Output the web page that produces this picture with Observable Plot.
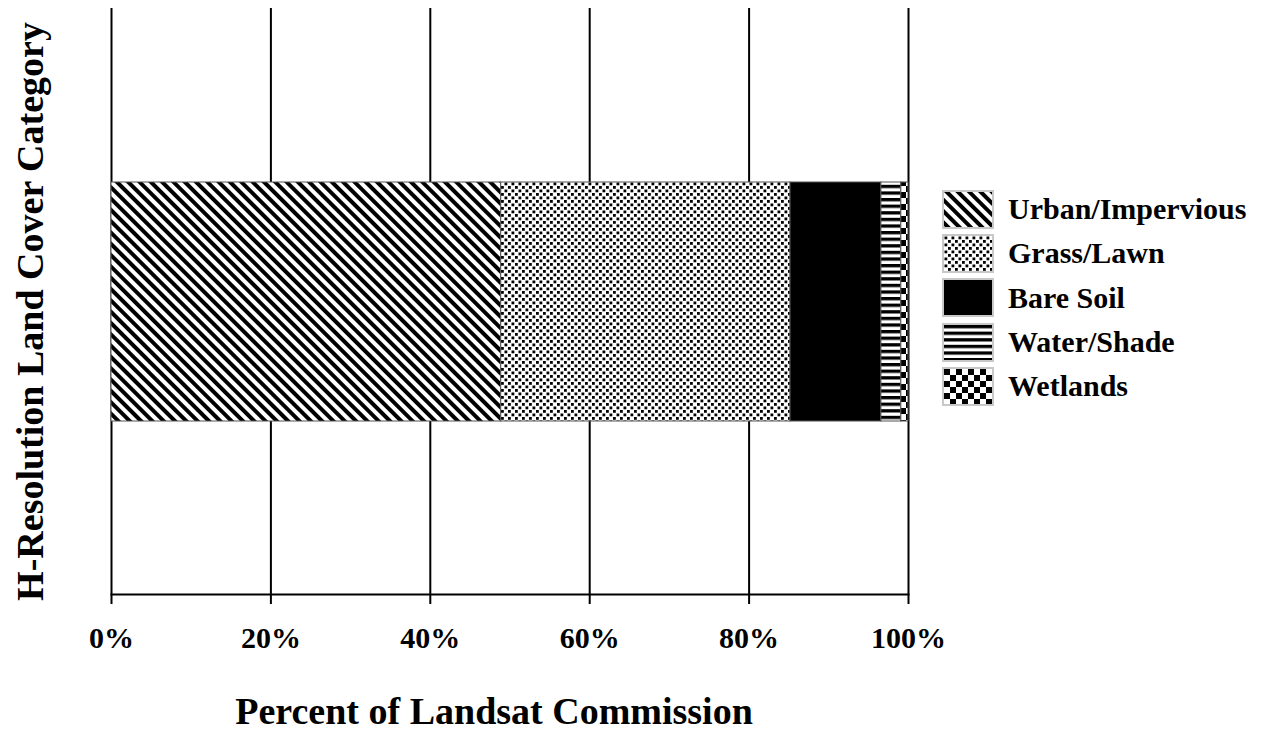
<!DOCTYPE html>
<html><head><meta charset="utf-8">
<script src="https://cdn.jsdelivr.net/npm/d3@7"></script>
<script src="https://cdn.jsdelivr.net/npm/@observablehq/plot@0.6"></script>
<style>
body{margin:0;background:#fff;}
#wrap{position:relative;width:1262px;height:732px;font-family:"Liberation Serif","Times New Roman",serif;font-weight:bold;}
#legend{position:absolute;left:942px;top:187px;}
.item{display:flex;align-items:center;height:44.3px;}
.sw{width:48px;height:35px;border:2px solid #c8c8c8;margin-right:14px;box-sizing:content-box;}
.lab{font-size:30px;color:#000;line-height:1;}
</style></head><body>
<svg width="0" height="0" style="position:absolute">
<defs>
<pattern id="p-urban" patternUnits="userSpaceOnUse" width="8" height="8" patternTransform="rotate(-45)">
<rect width="8" height="8" fill="#fff"/><rect width="4" height="8" fill="#000"/></pattern>
<pattern id="p-grass" patternUnits="userSpaceOnUse" width="7" height="7">
<rect width="7" height="7" fill="#fff"/><rect x="0.5" y="0.5" width="2.8" height="2.8" fill="#000"/><rect x="4" y="4" width="2.8" height="2.8" fill="#000"/></pattern>
<pattern id="p-bare" patternUnits="userSpaceOnUse" width="4" height="4">
<rect width="4" height="4" fill="#000"/></pattern>
<pattern id="p-water" patternUnits="userSpaceOnUse" width="6.6" height="6.6">
<rect width="6.6" height="6.6" fill="#fff"/><rect width="6.6" height="3.3" fill="#000"/></pattern>
<pattern id="p-wet" patternUnits="userSpaceOnUse" width="12" height="12">
<rect width="12" height="12" fill="#fff"/><rect width="6" height="6" fill="#000"/><rect x="6" y="6" width="6" height="6" fill="#000"/></pattern>
</defs></svg>
<div id="wrap"><div id="legend"></div></div>
<script>
const groups = ["Landsat Commission"];
const categories = ["Urban/Impervious", "Grass/Lawn", "Bare Soil", "Water/Shade", "Wetlands"];
const values = [48.9, 36.3, 11.4, 2.5, 0.9];
const patternIds = ["p-urban", "p-grass", "p-bare", "p-water", "p-wet"];
const xTicks = [0, 20, 40, 60, 80, 100];
const xTitle = "Percent of Landsat Commission";
const yTitle = "H-Resolution Land Cover Category";

const data = categories.map((c, i) => ({group: groups[0], category: c, value: values[i]}));
const fills = patternIds.map(id => `url(#${id})`);
const font = '"Liberation Serif","Times New Roman",serif';

const plot = Plot.plot({
  width: 1262, height: 732,
  marginLeft: 111, marginRight: 354, marginTop: 8, marginBottom: 138,
  style: {fontFamily: font, fontWeight: "bold", fontSize: "30px", color: "#000", background: "#fff", overflow: "visible"},
  x: {domain: [0, 100]},
  y: {domain: groups, padding: 0.42, axis: null},
  color: {domain: categories, range: fills},
  marks: [
    Plot.gridX(xTicks, {stroke: "#000", strokeOpacity: 1, strokeWidth: 2}),
    Plot.barX(data, {x: "value", y: "group", fill: "category", order: categories, stroke: "#555", strokeWidth: 1}),
    Plot.frame({anchor: "bottom", stroke: "#000", strokeWidth: 2}),
    Plot.axisX(xTicks, {tickSize: 10, strokeWidth: 2, tickPadding: 22, tickFormat: d => d + "%", fontSize: 30, fontWeight: "bold", label: null}),
    Plot.text([xTitle], {text: d => d, frameAnchor: "bottom", dy: 117, dx: -16, fontSize: 38, fontWeight: "bold", lineAnchor: "middle", textAnchor: "middle"}),
    Plot.text([yTitle], {text: d => d, frameAnchor: "left", rotate: -90, dx: -81, dy: 10, fontSize: 38, fontWeight: "bold", lineAnchor: "middle", textAnchor: "middle"})
  ]
});
const wrap = document.getElementById("wrap");
wrap.insertBefore(plot, wrap.firstChild);

const legend = document.getElementById("legend");
categories.forEach((c, i) => {
  const item = document.createElement("div");
  item.className = "item";
  item.innerHTML = `<svg class="sw" width="48" height="35"><rect width="48" height="35" fill="${fills[i]}"/></svg><span class="lab">${c}</span>`;
  legend.appendChild(item);
});
</script>
</body></html>
